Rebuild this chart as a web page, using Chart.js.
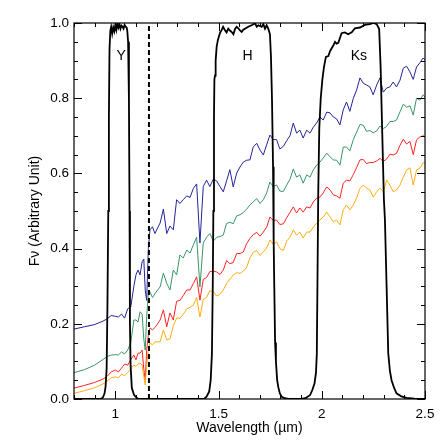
<!DOCTYPE html>
<html>
<head>
<meta charset="utf-8">
<script src="https://cdn.jsdelivr.net/npm/chart.js@4.4.1/dist/chart.umd.min.js"></script>
<style>
  body { margin: 0; background: #fff; }
  canvas { display: block; }
</style>
</head>
<body>
<canvas id="spec_chart" width="447" height="447"></canvas>
<script>
/** Spectra: wavelength grid (um) and flux of the four models **/
const wavelength = [
    0.80, 0.85, 0.90, 0.94, 0.96, 0.98, 1.00, 1.015, 1.03, 1.045, 1.06, 1.075, 1.09, 1.10, 1.11, 1.12, 1.13, 1.138, 1.145, 1.152, 1.16, 1.168, 1.18, 1.192, 1.205,
    1.217, 1.233, 1.249, 1.265, 1.281, 1.297, 1.313, 1.329, 1.346, 1.362,
    1.378, 1.394, 1.410, 1.426, 1.442, 1.458, 1.475, 1.491, 1.507, 1.523,
    1.539, 1.555, 1.571, 1.588, 1.604, 1.620, 1.636, 1.652, 1.668, 1.685,
    1.701, 1.717, 1.733, 1.749, 1.765, 1.781, 1.797, 1.814, 1.830, 1.846,
    1.862, 1.878, 1.894, 1.910, 1.927, 1.943, 1.959, 1.975, 1.991, 2.007,
    2.024, 2.040, 2.056, 2.072, 2.088, 2.104, 2.120, 2.136, 2.153, 2.169,
    2.185, 2.201, 2.217, 2.233, 2.249, 2.266, 2.282, 2.298, 2.314, 2.330,
    2.346, 2.362, 2.379, 2.395, 2.411, 2.427, 2.443, 2.459, 2.475, 2.491,
    2.500
]
const flux_blue = [
    0.186, 0.192, 0.198, 0.207, 0.213, 0.222, 0.220, 0.218, 0.226, 0.215, 0.240, 0.245, 0.300, 0.330, 0.343, 0.330, 0.365, 0.372, 0.290, 0.262, 0.400, 0.450, 0.458, 0.440, 0.455,
    0.468, 0.505, 0.440, 0.460, 0.450, 0.530, 0.520, 0.530, 0.540, 0.536,
    0.560, 0.572, 0.415, 0.565, 0.582, 0.565, 0.585, 0.580, 0.565, 0.551,
    0.580, 0.610, 0.564, 0.601, 0.617, 0.630, 0.635, 0.636, 0.670, 0.680,
    0.662, 0.649, 0.676, 0.702, 0.690, 0.690, 0.665, 0.672, 0.687, 0.700,
    0.734, 0.707, 0.715, 0.694, 0.715, 0.707, 0.723, 0.734, 0.750, 0.742,
    0.763, 0.761, 0.750, 0.745, 0.729, 0.769, 0.790, 0.765, 0.800, 0.822,
    0.854, 0.840, 0.835, 0.830, 0.809, 0.835, 0.854, 0.816, 0.827, 0.830,
    0.843, 0.830, 0.848, 0.880, 0.885, 0.870, 0.850, 0.883, 0.894, 0.907,
    0.902
]
const flux_green = [
    0.070, 0.078, 0.090, 0.105, 0.113, 0.117, 0.118, 0.117, 0.125, 0.120, 0.130, 0.150, 0.210, 0.210, 0.205, 0.232, 0.225, 0.160, 0.130, 0.220, 0.280, 0.285, 0.270, 0.280, 0.290,
    0.298, 0.335, 0.308, 0.290, 0.343, 0.330, 0.383, 0.375, 0.396, 0.388,
    0.410, 0.430, 0.298, 0.415, 0.430, 0.440, 0.420, 0.430, 0.432, 0.436,
    0.467, 0.470, 0.466, 0.487, 0.490, 0.496, 0.505, 0.516, 0.524, 0.533,
    0.520, 0.530, 0.548, 0.577, 0.565, 0.569, 0.553, 0.552, 0.569, 0.584,
    0.612, 0.590, 0.596, 0.574, 0.596, 0.590, 0.609, 0.622, 0.630, 0.641,
    0.654, 0.644, 0.636, 0.635, 0.622, 0.670, 0.670, 0.660, 0.690, 0.710,
    0.730, 0.728, 0.712, 0.714, 0.708, 0.713, 0.726, 0.719, 0.725, 0.738,
    0.738, 0.742, 0.764, 0.784, 0.776, 0.780, 0.755, 0.800, 0.795, 0.809,
    0.803
]
const flux_red = [
    0.029, 0.036, 0.044, 0.053, 0.060, 0.072, 0.077, 0.072, 0.082, 0.093, 0.090, 0.105, 0.117, 0.104, 0.122, 0.122, 0.130, 0.080, 0.050, 0.130, 0.170, 0.189, 0.184, 0.190, 0.200,
    0.210, 0.237, 0.192, 0.229, 0.210, 0.260, 0.262, 0.275, 0.290, 0.290,
    0.307, 0.325, 0.263, 0.318, 0.323, 0.339, 0.340, 0.338, 0.331, 0.343,
    0.368, 0.360, 0.363, 0.387, 0.387, 0.391, 0.413, 0.427, 0.437, 0.443,
    0.433, 0.444, 0.457, 0.484, 0.475, 0.476, 0.464, 0.466, 0.482, 0.496,
    0.511, 0.495, 0.508, 0.497, 0.511, 0.508, 0.524, 0.534, 0.537, 0.548,
    0.564, 0.556, 0.543, 0.540, 0.534, 0.574, 0.582, 0.580, 0.597, 0.616,
    0.636, 0.637, 0.626, 0.629, 0.629, 0.633, 0.640, 0.632, 0.638, 0.651,
    0.649, 0.653, 0.675, 0.691, 0.678, 0.685, 0.650, 0.689, 0.697, 0.700,
    0.697
]
const flux_orange = [
    0.015, 0.022, 0.030, 0.040, 0.047, 0.056, 0.059, 0.056, 0.066, 0.062, 0.070, 0.080, 0.090, 0.087, 0.093, 0.096, 0.090, 0.060, 0.037, 0.090, 0.130, 0.149, 0.144, 0.152, 0.152,
    0.152, 0.184, 0.157, 0.160, 0.195, 0.215, 0.215, 0.225, 0.240, 0.244,
    0.250, 0.270, 0.218, 0.265, 0.270, 0.288, 0.286, 0.274, 0.278, 0.290,
    0.307, 0.319, 0.330, 0.336, 0.334, 0.340, 0.350, 0.375, 0.390, 0.395,
    0.382, 0.391, 0.401, 0.423, 0.412, 0.418, 0.400, 0.395, 0.420, 0.430,
    0.450, 0.436, 0.444, 0.428, 0.444, 0.444, 0.457, 0.468, 0.476, 0.484,
    0.497, 0.484, 0.471, 0.476, 0.463, 0.503, 0.516, 0.503, 0.516, 0.535,
    0.560, 0.569, 0.561, 0.556, 0.537, 0.551, 0.561, 0.551, 0.582, 0.569,
    0.551, 0.556, 0.569, 0.590, 0.609, 0.615, 0.569, 0.609, 0.614, 0.628,
    0.628
]

/** Filter transmission curves **/
const y_wave = [0.80, 0.93, 0.94, 0.948, 0.953, 0.958, 0.962, 0.966, 0.969, 0.972, 0.976, 0.98, 0.985, 0.99, 0.995, 1.0, 1.005, 1.01, 1.015, 1.02, 1.025, 1.03, 1.035, 1.04, 1.045, 1.05, 1.055, 1.058, 1.062, 1.066, 1.069, 1.071, 1.074, 1.08, 1.09, 1.10, 1.11, 1.12]
const y_trans = [0, 0, 0.004, 0.015, 0.033, 0.08, 0.25, 0.5, 0.75, 0.93, 0.98, 0.99, 0.972, 0.988, 0.978, 0.995, 0.982, 1.0, 0.988, 0.997, 0.985, 0.993, 0.99, 0.985, 0.995, 0.99, 0.988, 0.98, 0.95, 0.8, 0.5, 0.2, 0.09, 0.03, 0.012, 0.005, 0.001, 0]
const h_wave = [1.43, 1.442, 1.455, 1.462, 1.468, 1.472, 1.475, 1.478, 1.480, 1.483, 1.486, 1.491, 1.497, 1.502, 1.508, 1.515, 1.522, 1.531, 1.539, 1.547, 1.555, 1.564, 1.572, 1.58, 1.588, 1.596, 1.604, 1.612, 1.62, 1.628, 1.644, 1.66, 1.677, 1.685, 1.693, 1.709, 1.717, 1.725, 1.733, 1.741, 1.749, 1.754, 1.759, 1.764, 1.767, 1.770, 1.774, 1.778, 1.784, 1.789, 1.797, 1.806, 1.82, 1.84]
const h_trans = [0, 0.006, 0.02, 0.05, 0.12, 0.3, 0.5, 0.75, 0.85, 0.86, 0.9, 0.937, 0.955, 0.964, 0.975, 0.981, 0.99, 0.981, 0.975, 0.985, 0.98, 0.976, 0.97, 0.984, 0.99, 0.986, 0.98, 0.976, 0.982, 0.985, 0.99, 0.994, 0.999, 0.99, 0.994, 0.99, 0.997, 0.985, 0.994, 0.985, 0.97, 0.91, 0.795, 0.618, 0.42, 0.3, 0.15, 0.1, 0.05, 0.033, 0.015, 0.006, 0.002, 0]
const ks_wave = [1.90, 1.92, 1.943, 1.955, 1.965, 1.972, 1.976, 1.979, 1.983, 1.988, 1.995, 2.003, 2.011, 2.02, 2.032, 2.04, 2.048, 2.056, 2.064, 2.072, 2.08, 2.088, 2.096, 2.112, 2.128, 2.145, 2.161, 2.185, 2.209, 2.233, 2.25, 2.266, 2.278, 2.285, 2.293, 2.301, 2.306, 2.314, 2.322, 2.33, 2.338, 2.35, 2.362, 2.385, 2.411, 2.45, 2.5]
const ks_trans = [0, 0.002, 0.01, 0.025, 0.042, 0.07, 0.12, 0.3, 0.55, 0.72, 0.8, 0.85, 0.884, 0.91, 0.912, 0.925, 0.933, 0.94, 0.95, 0.945, 0.947, 0.96, 0.973, 0.975, 0.97, 0.975, 0.986, 0.988, 0.995, 0.997, 1.0, 0.997, 0.984, 0.884, 0.706, 0.53, 0.476, 0.3, 0.122, 0.075, 0.05, 0.03, 0.015, 0.007, 0.003, 0.001, 0]

/** Band names and where they sit (wavelength, transmission) **/
const band_names = ['Y', 'H', 'Ks']
const band_label_wave = [1.028, 1.641, 2.18]
const band_label_level = [0.912, 0.913, 0.913]

// dashed cut-off line
const cutoff_wave = 1.163

const x_ticks = [1, 1.5, 2, 2.5]
const y_ticks = [0, 0.2, 0.4, 0.6, 0.8, 1.0]

function to_points(xs, ys) {
    var pts = []
    for (var i = 0; i < xs.length; i++) {
        pts.push({ x: xs[i], y: ys[i] })
    }
    return pts
}

var filter_points = to_points(y_wave, y_trans)
    .concat(to_points(h_wave, h_trans))
    .concat(to_points(ks_wave, ks_trans))

/** Frame, inward ticks on all sides and band names **/
const frame_plugin = {
    id: 'frame_plugin',
    afterDatasetsDraw(chart) {
        const ctx = chart.ctx
        const a = chart.chartArea
        const xs = chart.scales.x
        const ys = chart.scales.y
        ctx.save()
        ctx.strokeStyle = '#000'
        ctx.lineWidth = 1.2
        ctx.strokeRect(a.left, a.top, a.right - a.left, a.bottom - a.top)

        ctx.beginPath()
        for (var i = 8; i <= 25; i++) {
            var px = Math.round(xs.getPixelForValue(i / 10)) + 0.5
            var len = (i % 5 === 0) ? 8 : 4
            ctx.moveTo(px, a.bottom)
            ctx.lineTo(px, a.bottom - len)
            ctx.moveTo(px, a.top)
            ctx.lineTo(px, a.top + len)
        }
        for (var j = 0; j <= 20; j++) {
            var py = Math.round(ys.getPixelForValue(j / 20)) + 0.5
            var len2 = (j % 4 === 0) ? 8 : 4
            ctx.moveTo(a.left, py)
            ctx.lineTo(a.left + len2, py)
            ctx.moveTo(a.right, py)
            ctx.lineTo(a.right - len2, py)
        }
        ctx.lineWidth = 1
        ctx.stroke()

        ctx.fillStyle = '#000'
        ctx.font = '14px "Liberation Sans", Arial, sans-serif'
        ctx.textAlign = 'center'
        ctx.textBaseline = 'middle'
        for (var k = 0; k < band_names.length; k++) {
            ctx.fillText(band_names[k], xs.getPixelForValue(band_label_wave[k]), ys.getPixelForValue(band_label_level[k]))
        }
        ctx.restore()
    }
}

Chart.defaults.font.family = '"Liberation Sans", Arial, sans-serif'
Chart.defaults.font.size = 13
Chart.defaults.color = '#000'

var spec_chart = new Chart(
    document.getElementById('spec_chart').getContext('2d'),
    config = {
        type: 'line',
        data: {
            datasets: [{
                data: filter_points,
                borderColor: '#000',
                borderWidth: 1.8,
            }, {
                data: [{ x: cutoff_wave, y: 0 }, { x: cutoff_wave, y: 1 }],
                borderColor: '#000',
                borderWidth: 2,
                borderDash: [5, 3],
            }, {
                data: to_points(wavelength, flux_orange),
                borderColor: 'rgb(255, 172, 20)',
                borderWidth: 1,
            }, {
                data: to_points(wavelength, flux_red),
                borderColor: 'rgb(255, 35, 35)',
                borderWidth: 1,
            }, {
                data: to_points(wavelength, flux_green),
                borderColor: 'rgb(55, 150, 100)',
                borderWidth: 1,
            }, {
                data: to_points(wavelength, flux_blue),
                borderColor: 'rgb(35, 35, 155)',
                borderWidth: 1,
            },
            ]
        },
        options: {
            responsive: false,
            animation: false,
            elements: {
                point: { radius: 0 },
                line: { tension: 0 }
            },
            layout: {
                padding: { top: 23, right: 22, left: 0, bottom: 0 }
            },
            plugins: {
                legend: { display: false },
                tooltip: { enabled: false }
            },
            scales: {
                x: {
                    type: 'linear',
                    min: 0.8,
                    max: 2.5,
                    grid: { display: false, drawTicks: false },
                    border: { display: false },
                    afterBuildTicks: function (s) {
                        s.ticks = x_ticks.map(function (v) { return { value: v } })
                    },
                    afterFit: function (s) { s.height = 48 },
                    ticks: {
                        padding: 7,
                        maxRotation: 0,
                        font: { size: 13.5 },
                        callback: function (v) { return String(v) }
                    },
                    title: {
                        display: true,
                        text: 'Wavelength (µm)',
                        font: { size: 14 },
                        padding: { top: 0, bottom: 10 }
                    }
                },
                y: {
                    min: 0,
                    max: 1,
                    grid: { display: false, drawTicks: false },
                    border: { display: false },
                    afterBuildTicks: function (s) {
                        s.ticks = y_ticks.map(function (v) { return { value: v } })
                    },
                    afterFit: function (s) { s.width = 74 },
                    ticks: {
                        padding: 5,
                        font: { size: 13.5 },
                        callback: function (v) { return v.toFixed(1) }
                    },
                    title: {
                        display: true,
                        text: 'Fν (Arbitrary Unit)',
                        font: { size: 14 },
                        padding: { top: 27, bottom: 0 }
                    }
                }
            }
        },
        plugins: [frame_plugin]
    }
);
</script>
</body>
</html>
